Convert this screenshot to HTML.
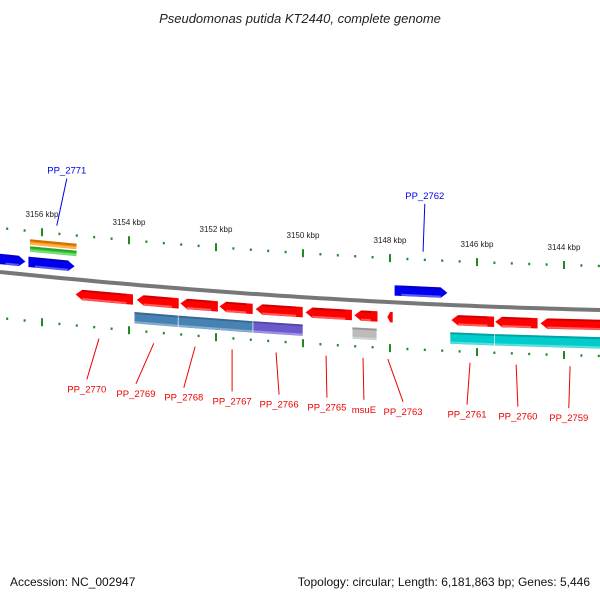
<!DOCTYPE html>
<html><head><meta charset="utf-8"><style>
body{margin:0;background:#fff;}
svg{display:block;font-family:"Liberation Sans","DejaVu Sans",sans-serif;}
</style></head><body>
<svg id="map" width="600" height="600" viewBox="0 0 600 600">
<text x="300" y="23" text-anchor="middle" font-size="13" font-style="italic" fill="#222">Pseudomonas putida KT2440, complete genome</text>
<text x="10" y="586" font-size="12" fill="#111">Accession: NC_002947</text>
<text x="590" y="586" font-size="12" fill="#111" text-anchor="end">Topology: circular; Length: 6,181,863 bp; Genes: 5,446</text>
</svg>
<script>
const tickKbp=[3156,3154,3152,3150,3148,3146,3144];
const geneNames=["PP_2772","PP_2771","orange-feature","green-feature","PP_2762","PP_2770","PP_2769","PP_2768","PP_2767","PP_2766","PP_2765","msuE","PP_2763","PP_2761","PP_2760","PP_2759","blue-1","blue-2","purple-1","grey-1","cyan-1","cyan-2"];
const geneStartKbp=[3157.0,3156.32,3156.28,3156.28,3147.9,3155.24,3153.83,3152.83,3151.93,3151.1,3149.95,3148.83,3148.07,3146.6,3145.59,3144.55,3153.88,3152.87,3151.15,3148.87,3146.62,3145.6];
const geneEndKbp=[3156.37,3155.24,3155.2,3155.2,3146.67,3153.9,3152.85,3151.95,3151.15,3150.0,3148.87,3148.28,3147.93,3145.6,3144.6,3143.0,3152.87,3151.15,3150.0,3148.3,3145.6,3143.0];
const geneStrand=[1,1,0,0,1,-1,-1,-1,-1,-1,-1,-1,-1,-1,-1,-1,0,0,0,0,0,0];
const geneTrack=[-13,-13,-33,-26,-12,15,15,15,15,15,15,15,15,15,15,15,33,33,33,33,33,33];
const geneColor=["#0000ee","#0000ee","#ff8c00","#33cc33","#0000ee","#ff0000","#ff0000","#ff0000","#ff0000","#ff0000","#ff0000","#ff0000","#ff0000","#ff0000","#ff0000","#ff0000","#4682b4","#4682b4","#6a5acd","#bbbbbb","#00cccc","#00cccc"];
const labelNames=["PP_2771","PP_2762","PP_2770","PP_2769","PP_2768","PP_2767","PP_2766","PP_2765","msuE","PP_2763","PP_2761","PP_2760","PP_2759"];
const labelKbp=[3155.66,3147.24,3154.69,3153.43,3152.48,3151.63,3150.62,3149.47,3148.62,3148.05,3146.16,3145.1,3143.86];
const labelTextKbp=[3155.43,3147.2,3154.97,3153.84,3152.74,3151.63,3150.55,3149.45,3148.6,3147.7,3146.23,3145.06,3143.89];
const labelSide=[-1,-1,1,1,1,1,1,1,1,1,1,1,1];
const svg=document.getElementById('map');
const NS='http://www.w3.org/2000/svg';
function X(k){return 42+(3156-k)*43.5;}
function Y(x){return 272+0.1033*x-6.67e-5*x*x;}
function mk(t,a,p){const e=document.createElementNS(NS,t);for(const k in a)e.setAttribute(k,a[k]);(p||svg).appendChild(e);return e;}
let d='';for(let x=0;x<=600;x+=10)d+=(x?'L':'M')+x+','+Y(x).toFixed(1);
const bb=mk('path',{d:d,stroke:'#777',"stroke-width":4,fill:'none'});


for(let k=3158;k>=3142;k-=0.4){
 const x=X(k);if(x<0||x>600)continue;
 const major=Math.abs(k-Math.round(k/2)*2)<0.01;
 [-44,46].forEach(off=>{const y=Y(x)+off;
  const t=mk('line',{x1:x,x2:x,y1:major?y-4:y-1.2,y2:major?y+4:y+1.2,stroke:'#228822',"stroke-width":2});
  
  });
}
tickKbp.forEach(k=>{const x=X(k);
 const t=mk('text',{x:x,y:Y(x)-59,"font-size":8,"text-anchor":"middle",fill:'#222'});
 t.textContent=k+' kbp';
 
 });
geneNames.forEach((n,i)=>{
 let x1=X(geneStartKbp[i]),x2=X(geneEndKbp[i]);if(x1>x2)[x1,x2]=[x2,x1];
 const s=geneStrand[i];
 const h=(s===0&&geneTrack[i]<-20)?6:(s===0?12:11),hd=s?Math.min(7,(x2-x1)/2):0;
 const y=x=>Y(x)+geneTrack[i];
 let pts;
 if(s>0)pts=[[x1,y(x1)-h/2],[x2-hd,y(x2-hd)-h/2],[x2,y(x2)],[x2-hd,y(x2-hd)+h/2],[x1,y(x1)+h/2]];
 else if(s<0)pts=[[x1,y(x1)],[x1+hd,y(x1+hd)-h/2],[x2,y(x2)-h/2],[x2,y(x2)+h/2],[x1+hd,y(x1+hd)+h/2]];
 else pts=[[x1,y(x1)-h/2],[x2,y(x2)-h/2],[x2,y(x2)+h/2],[x1,y(x1)+h/2]];
 const g=mk('polygon',{points:pts.map(p=>p[0].toFixed(1)+','+p[1].toFixed(1)).join(' '),fill:geneColor[i],stroke:'#fff',"stroke-width":0.6});
 
 
 const sh=mk('line',{x1:x1+hd,y1:y(x1+hd)-h/2+1.2,x2:x2-hd,y2:y(x2-hd)-h/2+1.2,stroke:'#000',"stroke-opacity":0.2,"stroke-width":2});
 
 
 const hl=mk('line',{x1:x1+hd,y1:y(x1+hd)+h/2-1.5,x2:x2-hd,y2:y(x2-hd)+h/2-1.5,stroke:'#fff',"stroke-opacity":0.35,"stroke-width":2});
 
 
});
labelNames.forEach((n,i)=>{
 const x=X(labelKbp[i]),by=Y(x),up=labelSide[i]<0;
 const tx=X(labelTextKbp[i]),tby=Y(tx);
 const col=up?'#0000ee':'#ee0000';
 const l=mk('line',{x1:x,y1:up?by-52:by+57,x2:tx,y2:up?tby-100:tby+99,stroke:col,"stroke-width":1});
 
 
 const t=mk('text',{x:tx,y:up?tby-105:tby+112,"font-size":9.5,"text-anchor":"middle",fill:col});
 t.textContent=n;
 
 
});
</script>
</body></html>
